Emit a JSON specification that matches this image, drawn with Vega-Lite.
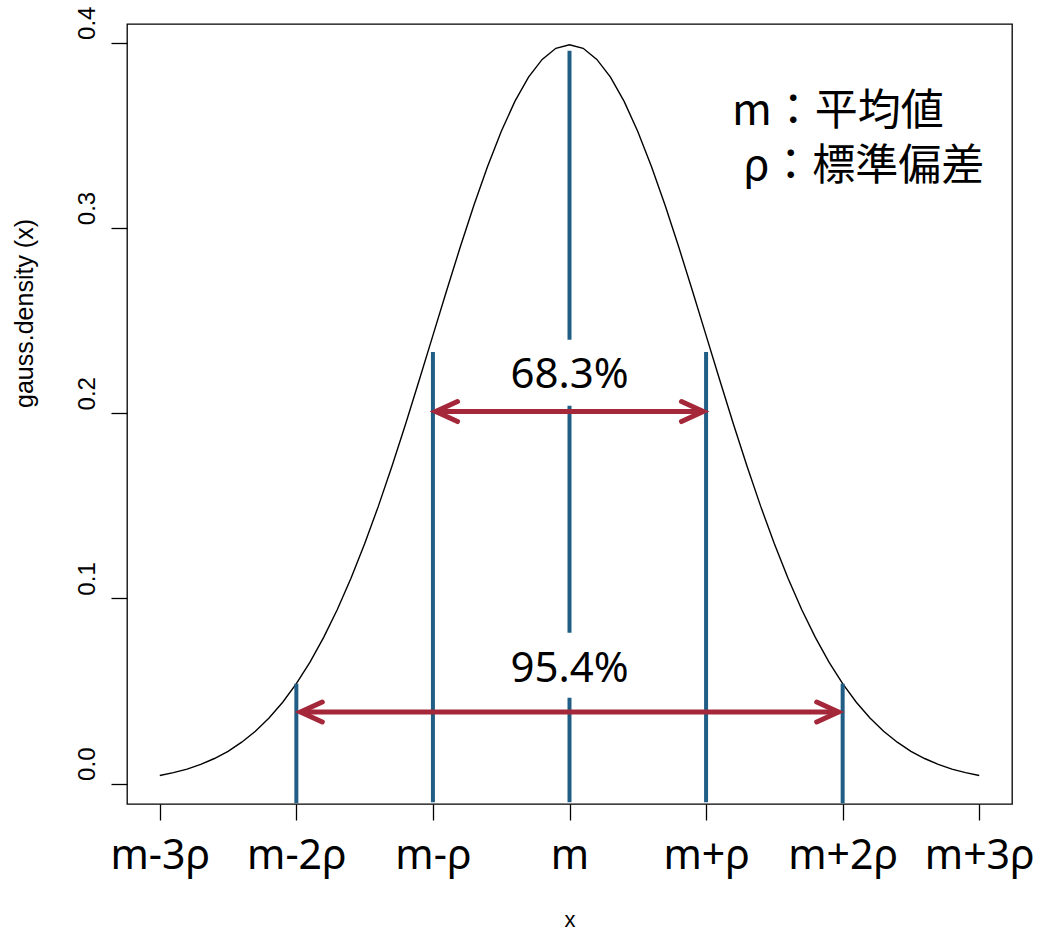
{
  "$schema": "https://vega.github.io/schema/vega-lite/v6.json",
  "width": 885,
  "height": 780,
  "autosize": {"type": "none"},
  "padding": {"left": 127, "top": 24, "right": 42, "bottom": 127},
  "background": "white",
  "config": {
    "view": {"stroke": "#000000", "strokeWidth": 1.3},
    "axis": {"domain": false, "grid": false, "tickColor": "#000000", "tickWidth": 1.3, "labelColor": "#000000", "titleColor": "#000000", "titleFontWeight": "normal"}
  },
  "datasets": {
    "curve": [
      {"x": -3.0, "d": 0.0044}, {"x": -2.9, "d": 0.0060}, {"x": -2.8, "d": 0.0079}, {"x": -2.7, "d": 0.0104}, {"x": -2.6, "d": 0.0136},
      {"x": -2.5, "d": 0.0175}, {"x": -2.4, "d": 0.0224}, {"x": -2.3, "d": 0.0283}, {"x": -2.2, "d": 0.0355}, {"x": -2.1, "d": 0.0440},
      {"x": -2.0, "d": 0.0540}, {"x": -1.9, "d": 0.0656}, {"x": -1.8, "d": 0.0790}, {"x": -1.7, "d": 0.0940}, {"x": -1.6, "d": 0.1109},
      {"x": -1.5, "d": 0.1295}, {"x": -1.4, "d": 0.1497}, {"x": -1.3, "d": 0.1714}, {"x": -1.2, "d": 0.1942}, {"x": -1.1, "d": 0.2179},
      {"x": -1.0, "d": 0.2420}, {"x": -0.9, "d": 0.2661}, {"x": -0.8, "d": 0.2897}, {"x": -0.7, "d": 0.3123}, {"x": -0.6, "d": 0.3332},
      {"x": -0.5, "d": 0.3521}, {"x": -0.4, "d": 0.3683}, {"x": -0.3, "d": 0.3814}, {"x": -0.2, "d": 0.3910}, {"x": -0.1, "d": 0.3970},
      {"x": 0.0, "d": 0.3989},
      {"x": 0.1, "d": 0.3970}, {"x": 0.2, "d": 0.3910}, {"x": 0.3, "d": 0.3814}, {"x": 0.4, "d": 0.3683}, {"x": 0.5, "d": 0.3521},
      {"x": 0.6, "d": 0.3332}, {"x": 0.7, "d": 0.3123}, {"x": 0.8, "d": 0.2897}, {"x": 0.9, "d": 0.2661}, {"x": 1.0, "d": 0.2420},
      {"x": 1.1, "d": 0.2179}, {"x": 1.2, "d": 0.1942}, {"x": 1.3, "d": 0.1714}, {"x": 1.4, "d": 0.1497}, {"x": 1.5, "d": 0.1295},
      {"x": 1.6, "d": 0.1109}, {"x": 1.7, "d": 0.0940}, {"x": 1.8, "d": 0.0790}, {"x": 1.9, "d": 0.0656}, {"x": 2.0, "d": 0.0540},
      {"x": 2.1, "d": 0.0440}, {"x": 2.2, "d": 0.0355}, {"x": 2.3, "d": 0.0283}, {"x": 2.4, "d": 0.0224}, {"x": 2.5, "d": 0.0175},
      {"x": 2.6, "d": 0.0136}, {"x": 2.7, "d": 0.0104}, {"x": 2.8, "d": 0.0079}, {"x": 2.9, "d": 0.0060}, {"x": 3.0, "d": 0.0044}
    ],
    "vlines": [
      {"x": -2, "y0": -0.0105, "y1": 0.0540},
      {"x": -1, "y0": -0.0100, "y1": 0.2331},
      {"x": 0, "y0": -0.0100, "y1": 0.0464},
      {"x": 0, "y0": 0.0815, "y1": 0.2040},
      {"x": 0, "y0": 0.2396, "y1": 0.3956},
      {"x": 1, "y0": -0.0100, "y1": 0.2331},
      {"x": 2, "y0": -0.0105, "y1": 0.0540}
    ],
    "shafts": [
      {"x0": -0.98, "x1": 0.98, "y": 0.2009},
      {"x0": -1.97, "x1": 1.97, "y": 0.0387}
    ],
    "heads": [
      {"g": "a", "o": 1, "x": -0.82, "y": 0.2063}, {"g": "a", "o": 2, "x": -0.98, "y": 0.2009}, {"g": "a", "o": 3, "x": -0.82, "y": 0.1955},
      {"g": "b", "o": 1, "x": 0.82, "y": 0.2063}, {"g": "b", "o": 2, "x": 0.98, "y": 0.2009}, {"g": "b", "o": 3, "x": 0.82, "y": 0.1955},
      {"g": "c", "o": 1, "x": -1.81, "y": 0.0441}, {"g": "c", "o": 2, "x": -1.97, "y": 0.0387}, {"g": "c", "o": 3, "x": -1.81, "y": 0.0333},
      {"g": "d", "o": 1, "x": 1.81, "y": 0.0441}, {"g": "d", "o": 2, "x": 1.97, "y": 0.0387}, {"g": "d", "o": 3, "x": 1.81, "y": 0.0333}
    ],
    "pct": [
      {"x": 0, "y": 0.2137, "t": "68.3%"},
      {"x": 0, "y": 0.0550, "t": "95.4%"}
    ],
    "legend": [
      {"x": 1.19, "y": 0.3556, "t": "m：平均値"},
      {"x": 1.27, "y": 0.3260, "t": "ρ：標準偏差"}
    ]
  },
  "layer": [
    {
      "data": {"name": "curve"},
      "mark": {"type": "line", "color": "#000000", "strokeWidth": 1.4},
      "encoding": {
        "x": {
          "field": "x", "type": "quantitative",
          "scale": {"domain": [-3.24, 3.24], "nice": false, "zero": false},
          "axis": {
            "values": [-3, -2, -1, 0, 1, 2, 3],
            "labelExpr": "datum.value == -3 ? 'm-3ρ' : datum.value == -2 ? 'm-2ρ' : datum.value == -1 ? 'm-ρ' : datum.value == 0 ? 'm' : datum.value == 1 ? 'm+ρ' : datum.value == 2 ? 'm+2ρ' : 'm+3ρ'",
            "labelFont": "Noto Sans", "labelFontSize": 41, "labelBaseline": "alphabetic", "labelPadding": 48,
            "labelFlush": false, "labelOverlap": false, "labelBound": false,
            "tickSize": 16,
            "title": "x", "titleFont": "Liberation Sans", "titleFontSize": 22, "titleBaseline": "alphabetic", "titleY": 122
          }
        },
        "y": {
          "field": "d", "type": "quantitative",
          "scale": {"domain": [-0.01096, 0.4101], "nice": false, "zero": false},
          "axis": {
            "values": [0, 0.1, 0.2, 0.3, 0.4], "format": ".1f",
            "labelAngle": 270, "labelAlign": "center", "labelBaseline": "alphabetic", "labelPadding": 17, "labelOffset": -20,
            "labelFont": "Liberation Sans", "labelFontSize": 24, "labelFlush": false, "labelOverlap": false, "labelBound": false,
            "tickSize": 16,
            "title": "gauss.density (x)", "titleFont": "Liberation Sans", "titleFontSize": 25,
            "titleAngle": 270, "titleAlign": "center", "titleBaseline": "alphabetic", "titleX": -95, "titleY": 289
          }
        }
      }
    },
    {
      "data": {"name": "vlines"},
      "mark": {"type": "rule", "color": "#215e85", "strokeWidth": 4},
      "encoding": {
        "x": {"field": "x", "type": "quantitative", "title": "x"},
        "y": {"field": "y0", "type": "quantitative", "title": "gauss.density (x)"},
        "y2": {"field": "y1"}
      }
    },
    {
      "data": {"name": "shafts"},
      "mark": {"type": "rule", "color": "#a4283a", "strokeWidth": 5},
      "encoding": {
        "x": {"field": "x0", "type": "quantitative", "title": "x"},
        "x2": {"field": "x1"},
        "y": {"field": "y", "type": "quantitative", "title": "gauss.density (x)"}
      }
    },
    {
      "data": {"name": "heads"},
      "mark": {"type": "line", "color": "#a4283a", "strokeWidth": 5, "strokeCap": "round", "strokeJoin": "miter"},
      "encoding": {
        "x": {"field": "x", "type": "quantitative", "title": "x"},
        "y": {"field": "y", "type": "quantitative", "title": "gauss.density (x)"},
        "detail": {"field": "g"},
        "order": {"field": "o"}
      }
    },
    {
      "data": {"name": "pct"},
      "mark": {"type": "text", "font": "Noto Sans", "fontSize": 42, "align": "center", "baseline": "alphabetic", "color": "#000000"},
      "encoding": {
        "x": {"field": "x", "type": "quantitative", "title": "x"},
        "y": {"field": "y", "type": "quantitative", "title": "gauss.density (x)"},
        "text": {"field": "t"}
      }
    },
    {
      "data": {"name": "legend"},
      "mark": {"type": "text", "font": "Noto Sans CJK JP", "fontSize": 43, "align": "left", "baseline": "alphabetic", "color": "#000000"},
      "encoding": {
        "x": {"field": "x", "type": "quantitative", "title": "x"},
        "y": {"field": "y", "type": "quantitative", "title": "gauss.density (x)"},
        "text": {"field": "t"}
      }
    }
  ]
}
